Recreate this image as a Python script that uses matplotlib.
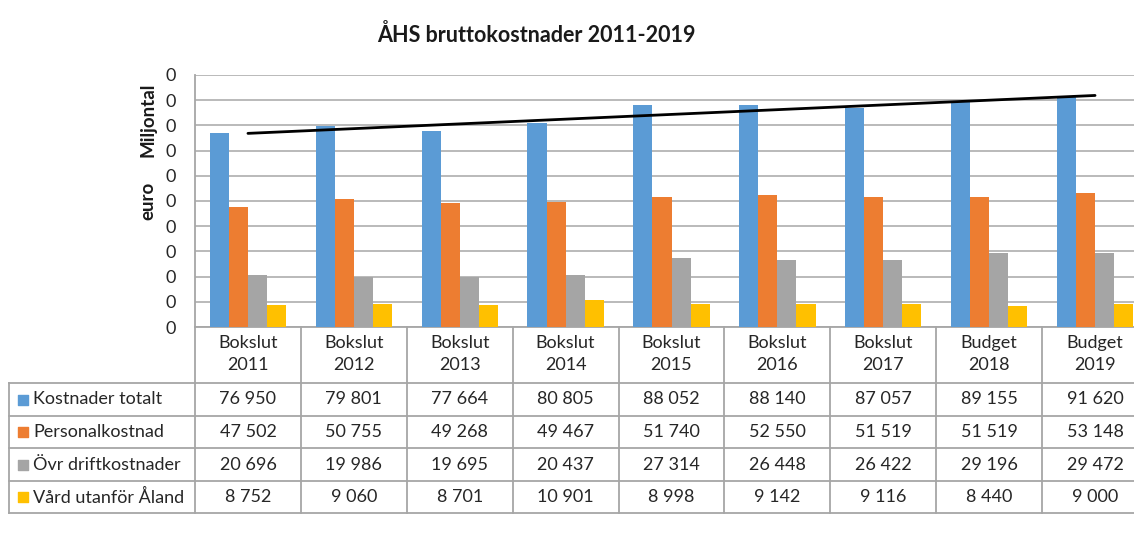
import numpy as np
import matplotlib.pyplot as plt
from matplotlib.ticker import MultipleLocator, FuncFormatter
from matplotlib.transforms import blended_transform_factory

plt.rcParams['font.family'] = ['Lato', 'DejaVu Sans']

# data (tusen euro)
categories = ['Bokslut\n2011', 'Bokslut\n2012', 'Bokslut\n2013', 'Bokslut\n2014', 'Bokslut\n2015',
              'Bokslut\n2016', 'Bokslut\n2017', 'Budget\n2018', 'Budget\n2019']
series_names = ['Kostnader totalt', 'Personalkostnad', 'Övr driftkostnader', 'Vård utanför Åland']
kostnader_totalt = [76950, 79801, 77664, 80805, 88052, 88140, 87057, 89155, 91620]
personalkostnad = [47502, 50755, 49268, 49467, 51740, 52550, 51519, 51519, 53148]
ovr_driftkostnader = [20696, 19986, 19695, 20437, 27314, 26448, 26422, 29196, 29472]
vard_utanfor_aland = [8752, 9060, 8701, 10901, 8998, 9142, 9116, 8440, 9000]
colors = ['#5B9BD5', '#ED7D31', '#A5A5A5', '#FFC000']

series = [kostnader_totalt, personalkostnad, ovr_driftkostnader, vard_utanfor_aland]

W, H = 1134, 537
fig = plt.figure(figsize=(W / 100, H / 100), dpi=100)
# plot area in pixels: x 195..1148 (runs past the right edge), y 75..327
ax = fig.add_axes([195 / W, 1 - 327 / H, 953 / W, 252 / H])

x = np.arange(len(categories))
bw = 0.18
offsets = [-1.5 * bw, -0.5 * bw, 0.5 * bw, 1.5 * bw]
for vals, off, c in zip(series, offsets, colors):
    ax.bar(x + off, vals, width=bw, color=c, zorder=3)

# linear trend on total costs
coef = np.polyfit(x, kostnader_totalt, 1)
ax.plot(x, np.polyval(coef, x), color='black', lw=2.0, zorder=4, solid_capstyle='round')

ax.set_xlim(-0.5, len(categories) - 0.5)
ax.set_ylim(0, 100000)
ax.yaxis.set_major_locator(MultipleLocator(10000))
ax.yaxis.set_major_formatter(FuncFormatter(lambda v, p: f'{v / 1e6:.0f}'))
ax.grid(axis='y', color='#b4b4b4', lw=1.3, zorder=0)
ax.set_xticks([])
ax.tick_params(axis='y', length=0, pad=14, labelsize=13, labelcolor='#262626')
for s in ['top', 'right']:
    ax.spines[s].set_visible(False)
for s in ['left', 'bottom']:
    ax.spines[s].set_color('#a6a6a6')
    ax.spines[s].set_linewidth(1.3)

fig.text(536 / W, 1 - 35 / H, 'ÅHS bruttokostnader 2011-2019', ha='center', va='center',
         fontsize=15.5, fontweight='bold', color='#1a1a1a')
fig.text(148 / W, 1 - 120 / H, 'Miljontal', rotation=90, ha='center', va='center',
         fontsize=13.5, fontweight='bold', color='#1a1a1a')
fig.text(148 / W, 1 - 201 / H, 'euro', rotation=90, ha='center', va='center',
         fontsize=13.5, fontweight='bold', color='#1a1a1a')

# data table under the chart
tr = blended_transform_factory(ax.transData, fig.transFigure)
px = 1 / 105.9  # data units per pixel along x
left_x = -0.5 - (195 - 9) * px
right_x = len(categories) - 0.5
row_px = [327, 383, 416, 448, 481, 513]
row_y = [1 - r / H for r in row_px]
line_kw = dict(color='#a6a6a6', lw=1.3, transform=tr, clip_on=False, zorder=5)

for k in range(len(categories) + 1):
    ax.plot([k - 0.5, k - 0.5], [row_y[0], row_y[-1]], **line_kw)
ax.plot([left_x, left_x], [row_y[1], row_y[-1]], **line_kw)
for yy in row_y[1:]:
    ax.plot([left_x, right_x], [yy, yy], **line_kw)

txt_kw = dict(fontsize=13, color='#262626', transform=tr, va='center')
for i, cat in enumerate(categories):
    ax.text(i, (row_y[0] + row_y[1]) / 2 + 1 / H, cat, ha='center', linespacing=1.4, **txt_kw)

for r, (name, vals, c) in enumerate(zip(series_names, series, colors)):
    yc = (row_y[r + 1] + row_y[r + 2]) / 2
    ax.scatter([left_x + 13.5 * px], [yc], marker='s', s=55, color=c, transform=tr,
               clip_on=False, zorder=6)
    ax.text(left_x + 24 * px, yc, name, ha='left', **txt_kw)
    for i, v in enumerate(vals):
        ax.text(i, yc, f'{v:,}'.replace(',', ' '), ha='center', **txt_kw)

fig.savefig('out.png', dpi=100, facecolor='white')
